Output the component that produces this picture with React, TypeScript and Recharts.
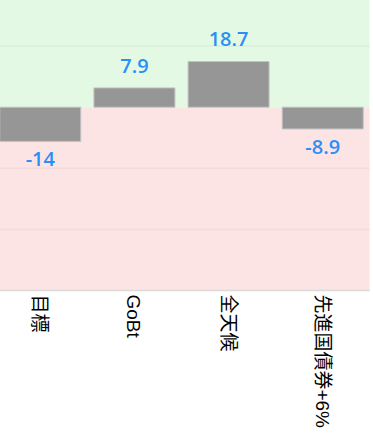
import React from "react";
import { Bar, BarChart, XAxis, YAxis, ReferenceArea, ReferenceLine, LabelList } from "recharts";

const categories = ["目標", "GoBt", "全天候", "先進国債券+6%"];
const returns = [-14, 7.9, 18.7, -8.9];
const yTicks = [-75, -50, -25, 0, 25, 50];
const gridValues = [-50, -25, 25];

const data = categories.map((name, i) => ({ name, value: returns[i] }));

const ValueLabel = (props: any) => {
  const vb = props.viewBox || props;
  const { x, y, width, height } = vb;
  const top = Math.min(y, y + height);
  const bottom = Math.max(y, y + height);
  const v = Number(props.value);
  return (
    <text
      x={x + width / 2}
      y={v >= 0 ? top - 15 : bottom + 25}
      textAnchor="middle"
      fill="#2a8ff7"
      fontSize={20}
      fontWeight={600}
      fontFamily="'Open Sans', sans-serif"
    >
      {props.value}
    </text>
  );
};

const VerticalTick = ({ x, y, payload }: any) => (
  <g transform={`translate(${x},${y + 4})`}>
    <text
      transform="rotate(90)"
      x={0}
      y={0}
      dy="0.36em"
      textAnchor="start"
      fill="#000"
      fontSize={19}
      fontFamily="'Liberation Sans', 'Noto Sans CJK JP', sans-serif"
    >
      {payload.value}
    </text>
  </g>
);

export default function App() {
  return (
    <div style={{ position: "absolute", left: -6.6, top: -15.3 }}>
      <BarChart
        width={376.6}
        height={463}
        data={data}
        margin={{ top: 0, right: 0, left: 0, bottom: 0 }}
        barCategoryGap="7.2%"
      >
        <ReferenceArea y1={0} y2={50} fill="#e3f9e3" fillOpacity={1} stroke="none" />
        <ReferenceArea y1={-75} y2={0} fill="#fce4e4" fillOpacity={1} stroke="none" />
        {gridValues.map((v) => (
          <ReferenceLine key={v} y={v} stroke="rgba(0,0,0,0.045)" strokeWidth={1.5} />
        ))}
        <XAxis
          dataKey="name"
          height={157.5}
          interval={0}
          tickLine={false}
          tickSize={0}
          tickMargin={0}
          axisLine={{ stroke: "#dadada", strokeWidth: 1.5 }}
          tick={<VerticalTick />}
        />
        <YAxis hide domain={[-75, 50]} ticks={yTicks} />
        <Bar dataKey="value" fill="#969696" stroke="#c4c4c4" strokeWidth={1} isAnimationActive={false}>
          <LabelList dataKey="value" content={<ValueLabel />} />
        </Bar>
      </BarChart>
    </div>
  );
}
